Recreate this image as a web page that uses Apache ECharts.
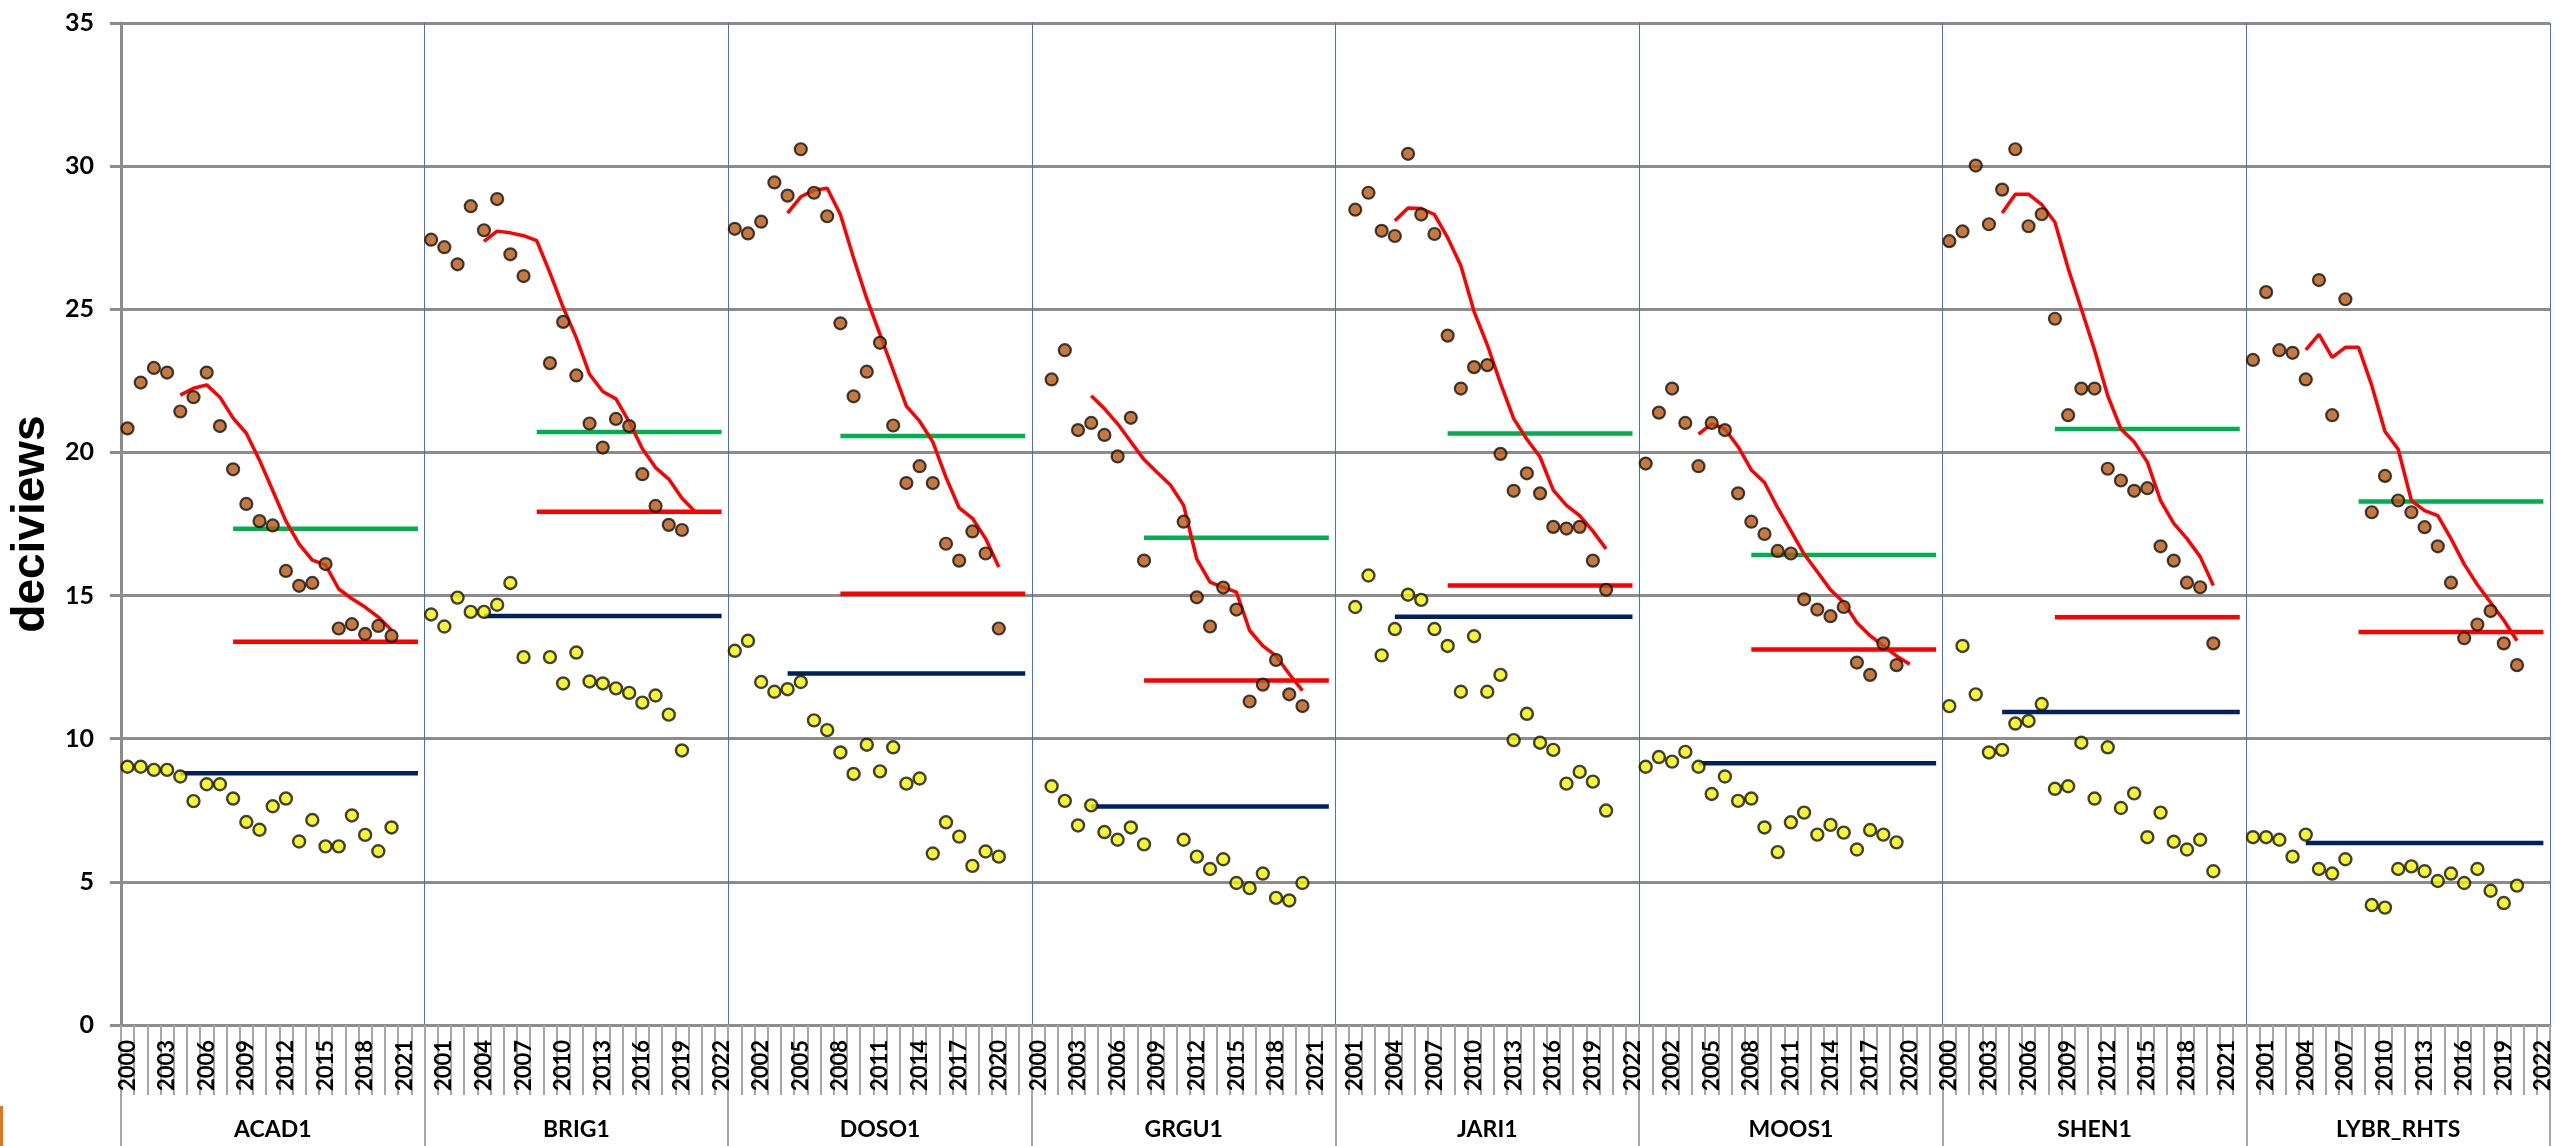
<!DOCTYPE html>
<html>
<head>
<meta charset="utf-8">
<script src="https://cdn.jsdelivr.net/npm/echarts@6/dist/echarts.min.js"></script>
<style>
html,body{margin:0;padding:0;background:#fff;}
#chart{width:2560px;height:1146px;}
</style>
</head>
<body>
<div id="chart"></div>
<script>
// ---------------- DATA ----------------
const sites = ['ACAD1','BRIG1','DOSO1','GRGU1','JARI1','MOOS1','SHEN1','LYBR_RHTS'];
const years = ['2000','2001','2002','2003','2004','2005','2006','2007','2008','2009','2010','2011',
               '2012','2013','2014','2015','2016','2017','2018','2019','2020','2021','2022'];
const yTicks = [0, 5, 10, 15, 20, 25, 30, 35];

// 20% most impaired days (brown dots)
const ACAD1_worst = [20.84,22.44,22.95,22.79,21.43,21.93,22.79,20.92,19.41,18.2,17.6,17.45,15.86,15.34,15.44,16.1,13.85,14.0,13.66,13.94,13.59,null,null];
const BRIG1_worst = [27.43,27.17,26.57,28.6,27.76,28.85,26.92,26.16,null,23.12,24.56,22.69,21.01,20.17,21.17,20.92,19.24,18.13,17.47,17.29,null,null,null];
const DOSO1_worst = [27.81,27.65,28.06,29.43,28.97,30.59,29.07,28.25,24.51,21.96,22.82,23.83,20.94,18.93,19.52,18.93,16.81,16.22,17.24,16.47,13.85,null,null];
const GRGU1_worst = [null,22.55,23.57,20.78,21.03,20.61,19.86,21.21,16.22,null,null,17.58,14.94,13.92,15.28,14.51,11.3,11.89,12.75,11.55,11.14,null,null];
const JARI1_worst = [null,28.48,29.07,27.74,27.56,30.43,28.31,27.63,24.08,22.23,22.98,23.05,19.95,18.66,19.27,18.57,17.4,17.34,17.4,16.22,15.2,null,null];
const MOOS1_worst = [19.61,21.39,22.23,21.03,19.52,21.03,20.78,18.57,17.58,17.15,16.56,16.47,14.87,14.51,14.28,14.6,12.66,12.23,13.33,12.57,null,null,null];
const SHEN1_worst = [27.38,27.72,30.02,27.97,29.18,30.59,27.9,28.32,24.67,21.3,22.23,22.23,19.43,19.02,18.66,18.75,16.72,16.22,15.45,15.29,13.33,null,null];
const LYBR_RHTS_worst = [23.23,25.6,23.57,23.48,22.55,26.02,21.3,25.35,null,17.91,19.18,18.32,17.91,17.39,16.72,15.45,13.51,13.99,14.46,13.33,12.57,null,null];

// 20% clearest days (yellow dots)
const ACAD1_best = [9.02,9.02,8.91,8.91,8.68,7.82,8.41,8.41,7.91,7.09,6.82,7.64,7.91,6.41,7.16,6.24,6.24,7.32,6.64,6.07,6.9,null,null];
const BRIG1_best = [14.34,13.92,14.93,14.43,14.43,14.68,15.44,12.85,null,12.85,11.93,13.01,12.0,11.93,11.76,11.6,11.26,11.51,10.84,9.59,null,null,null];
const DOSO1_best = [13.07,13.42,11.98,11.64,11.73,11.98,10.64,10.3,9.52,8.77,9.79,8.86,9.7,8.43,8.61,5.99,7.08,6.58,5.56,6.06,5.88,null,null];
const GRGU1_best = [null,8.34,7.83,6.97,7.67,6.74,6.47,6.9,6.31,null,null,6.47,5.88,5.45,5.79,4.96,4.78,5.29,4.44,4.35,4.96,null,null];
const JARI1_best = [null,14.6,15.7,12.91,13.83,15.03,14.85,13.83,13.24,11.64,13.58,11.64,12.23,9.95,10.87,9.86,9.61,8.43,8.84,8.5,7.49,null,null];
const MOOS1_best = [9.02,9.36,9.2,9.54,9.02,8.07,8.68,7.83,7.91,6.9,6.04,7.08,7.42,6.65,6.99,6.72,6.13,6.81,6.65,6.38,null,null,null];
const SHEN1_best = [11.14,13.24,11.55,9.52,9.61,10.53,10.62,11.21,8.25,8.34,9.86,7.91,9.7,7.58,8.09,6.56,7.42,6.4,6.13,6.47,5.37,null,null];
const LYBR_RHTS_best = [6.56,6.56,6.47,5.88,6.65,5.45,5.29,5.79,null,4.19,4.1,5.45,5.54,5.37,5.03,5.29,4.96,5.45,4.69,4.26,4.87,null,null];

// 5-year average of most impaired days (red curve)
const ACAD1_avg = [null,null,null,null,22.0,22.24,22.36,21.93,21.2,20.67,19.73,18.67,17.6,16.8,16.24,16.07,15.23,14.89,14.6,14.25,13.79,null,null];
const BRIG1_avg = [null,null,null,null,27.37,27.73,27.67,27.57,27.4,26.27,25.07,24.0,22.73,22.13,21.87,21.07,20.13,19.47,19.07,18.4,17.93,null,null];
const DOSO1_avg = [null,null,null,null,28.36,28.93,29.16,29.23,28.31,26.79,25.37,24.12,22.87,21.62,21.09,20.37,19.13,18.06,17.7,16.99,16.0,null,null];
const GRGU1_avg = [null,null,null,null,21.98,21.53,21.0,20.37,19.75,19.3,18.86,18.15,16.27,15.47,15.29,15.12,13.78,13.24,12.89,12.26,11.68,null,null];
const JARI1_avg = [null,null,null,null,28.09,28.54,28.52,28.31,27.5,26.52,24.92,23.76,22.42,21.18,20.46,19.84,18.68,18.15,17.79,17.25,16.63,null,null];
const MOOS1_avg = [null,null,null,null,20.64,21.0,20.82,20.2,19.39,18.95,18.06,17.26,16.45,15.83,15.2,14.76,14.05,13.6,13.24,12.89,12.6,null,null];
const SHEN1_avg = [null,null,null,null,28.36,29.02,29.02,28.66,28.04,26.43,25.01,23.58,21.98,20.82,20.37,19.66,18.32,17.52,16.99,16.36,15.35,null,null];
const LYBR_RHTS_avg = [null,null,null,null,23.58,24.12,23.32,23.67,23.67,22.34,20.73,20.11,18.32,17.97,17.79,16.99,16.1,15.38,14.76,14.14,13.42,null,null];

// Horizontal reference levels per site
const greenLevel = [17.33,20.71,20.57,17.02,20.66,16.42,20.82,18.29];
const redLevel   = [13.39,17.93,15.06,12.03,15.35,13.12,14.24,13.73];
const navyLevel  = [8.79,14.29,12.28,7.63,14.26,9.14,10.93,6.36];
const navyFromYear = '2004';
const levelFromYear = '2008';

// ---------------- BUILD ----------------
const worstAll = [ACAD1_worst,BRIG1_worst,DOSO1_worst,GRGU1_worst,JARI1_worst,MOOS1_worst,SHEN1_worst,LYBR_RHTS_worst];
const bestAll  = [ACAD1_best,BRIG1_best,DOSO1_best,GRGU1_best,JARI1_best,MOOS1_best,SHEN1_best,LYBR_RHTS_best];
const avgAll   = [ACAD1_avg,BRIG1_avg,DOSO1_avg,GRGU1_avg,JARI1_avg,MOOS1_avg,SHEN1_avg,LYBR_RHTS_avg];

const cats = [];
sites.forEach(() => years.forEach(y => cats.push(y)));

function flat(arrs){ const out=[]; arrs.forEach(a => a.forEach(v => out.push(v))); return out; }
function pairs(arrs){
  const out=[];
  arrs.forEach((a,s) => a.forEach((v,i) => { if(v!==null) out.push([s*years.length+i, v]); }));
  return out;
}
function level(levels, fromYear){
  const out=[];
  levels.forEach(l => years.forEach(y => out.push(y >= fromYear ? l : null)));
  return out;
}

const FONT = 'Lato';
const chart = echarts.init(document.getElementById('chart'), null, {renderer:'canvas'});
chart.setOption({
  animation:false,
  backgroundColor:'#ffffff',
  grid:{left:114, right:10, top:23, bottom:121, containLabel:false},
  xAxis:[
    {
      type:'category', data:cats, boundaryGap:true, position:'bottom',
      axisLine:{show:true, lineStyle:{color:'#8c8c8c', width:3}},
      axisTick:{show:true, interval:0, length:70, lineStyle:{color:'#a6a6a6', width:2}},
      axisLabel:{interval:2, rotate:90, margin:15, fontFamily:FONT, fontWeight:'bold', fontSize:22, color:'#000'},
      splitLine:{show:false}
    },
    {
      type:'category', data:sites, boundaryGap:true, position:'bottom',
      axisLine:{show:false},
      axisTick:{show:true, interval:0, length:121, lineStyle:{color:'#a6a6a6', width:2}},
      axisLabel:{interval:0, margin:93, fontFamily:FONT, fontWeight:'bold', fontSize:23, color:'#000'},
      splitLine:{show:true, interval:0, lineStyle:{color:'#4472C4', width:1}}
    }
  ],
  yAxis:{
    type:'value', min:yTicks[0], max:yTicks[yTicks.length-1], interval:5,
    name:'deciviews', nameLocation:'middle', nameRotate:90, nameGap:60,
    nameTextStyle:{fontFamily:'Liberation Sans', fontWeight:'bold', fontSize:46, color:'#000'},
    axisLine:{show:true, lineStyle:{color:'#8c8c8c', width:3}},
    axisTick:{show:true, length:11, lineStyle:{color:'#8c8c8c', width:3}},
    axisLabel:{margin:27, fontFamily:FONT, fontWeight:'bold', fontSize:25, color:'#000'},
    splitLine:{show:true, lineStyle:{color:'#8c8c8c', width:3}}
  },
  series:[
    {name:'navy', type:'line', data:level(navyLevel, navyFromYear), showSymbol:false, connectNulls:false,
     lineStyle:{color:'#002060', width:4.5}, z:2},
    {name:'green', type:'line', data:level(greenLevel, levelFromYear), showSymbol:false, connectNulls:false,
     lineStyle:{color:'#00B050', width:4.5}, z:2},
    {name:'redLevel', type:'line', data:level(redLevel, levelFromYear), showSymbol:false, connectNulls:false,
     lineStyle:{color:'#FF0000', width:4.5}, z:2},
    {name:'avg', type:'line', data:flat(avgAll), showSymbol:false, connectNulls:false,
     lineStyle:{color:'#FF0000', width:3.5}, z:3},
    {name:'worst', type:'scatter', data:pairs(worstAll), symbol:'circle', symbolSize:12,
     itemStyle:{color:'#B8560F', borderColor:'#111', borderWidth:2.2}, z:4},
    {name:'best', type:'scatter', data:pairs(bestAll), symbol:'circle', symbolSize:12,
     itemStyle:{color:'#F2F200', borderColor:'#111', borderWidth:2.4}, z:4}
  ],
  graphic:[
    {type:'rect', left:0, top:1106, shape:{width:3, height:40}, style:{fill:'#E2761B'}}
  ]
});
</script>
</body>
</html>
